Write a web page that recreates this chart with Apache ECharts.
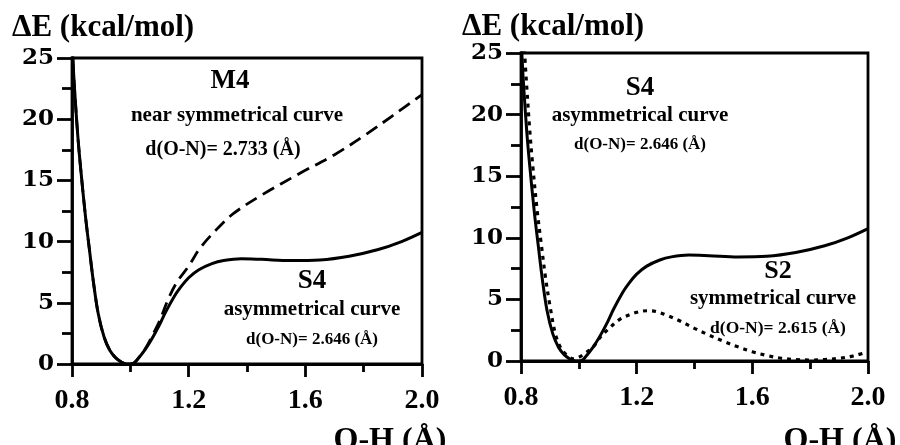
<!DOCTYPE html>
<html>
<head>
<meta charset="utf-8">
<script src="https://cdn.jsdelivr.net/npm/echarts@6/dist/echarts.min.js"></script>
<style>
  html, body { margin: 0; padding: 0; background: #fff; }
  #chart-box { width: 900px; height: 445px; }
</style>
</head>
<body>
<div id="chart-box"></div>
<script>
// O-H distance (Å) and ΔE (kcal/mol)
const s4OH = [0.80, 0.805, 0.81, 0.82, 0.83, 0.846, 0.86, 0.874, 0.89, 0.91, 0.93, 0.95, 0.97, 0.98, 0.995, 1.01, 1.02, 1.05, 1.075, 1.1, 1.12, 1.15, 1.17, 1.2, 1.235, 1.28, 1.32, 1.38, 1.45, 1.55, 1.65, 1.75, 1.85, 1.93, 2.0];
const s4E = [26.5, 24.0, 22.0, 18.6, 15.9, 12.1, 9.3, 6.6, 4.1, 2.2, 1.1, 0.5, 0.15, 0.05, 0.0, 0.06, 0.25, 1.15, 2.1, 3.2, 4.2, 5.5, 6.2, 7.05, 7.7, 8.2, 8.45, 8.6, 8.55, 8.45, 8.5, 8.8, 9.35, 10.0, 10.75];

const m4OH = [0.80, 0.805, 0.81, 0.82, 0.83, 0.846, 0.86, 0.874, 0.89, 0.91, 0.93, 0.95, 0.97, 0.98, 0.995, 1.01, 1.02, 1.05, 1.075, 1.1, 1.13, 1.16, 1.2, 1.24, 1.3, 1.354, 1.45, 1.583, 1.7, 1.811, 1.9, 2.0];
const m4E = [26.5, 24.0, 22.0, 18.6, 15.9, 12.1, 9.3, 6.6, 4.1, 2.2, 1.1, 0.5, 0.15, 0.05, 0.0, 0.06, 0.25, 1.2, 2.3, 3.5, 5.3, 6.7, 8.0, 9.5, 11.1, 12.3, 13.8, 15.6, 17.1, 18.8, 20.3, 22.0];

const s2OH = [0.81, 0.815, 0.82, 0.83, 0.84, 0.856, 0.87, 0.884, 0.90, 0.92, 0.94, 0.96, 0.98, 1.0, 1.02, 1.05, 1.075, 1.1, 1.143, 1.2, 1.24, 1.27, 1.3, 1.35, 1.4, 1.45, 1.5, 1.55, 1.6, 1.65, 1.7, 1.75, 1.8, 1.85, 1.9, 1.95, 2.0];
const s2E = [26.0, 24.0, 22.2, 18.8, 16.0, 12.2, 9.5, 6.9, 4.5, 2.1, 0.95, 0.45, 0.18, 0.3, 0.6, 1.15, 1.95, 2.55, 3.4, 3.95, 4.08, 4.0, 3.75, 3.25, 2.65, 2.1, 1.6, 1.15, 0.75, 0.45, 0.22, 0.12, 0.08, 0.12, 0.22, 0.42, 0.75];

const xTicks = [0.8, 2.0, 0.4];   // min, max, step
const yTicks = [0, 25, 5];

const zip = (xs, ys) => xs.map((x, i) => [x, ys[i]]);

const serif = '"Liberation Serif", "Times New Roman", serif';
const ink = '#000';

function makeX(gridIndex) {
    return {
        type: 'value', gridIndex: gridIndex,
        min: xTicks[0], max: xTicks[1], interval: xTicks[2],
        axisLine: {show: true, onZero: false, lineStyle: {color: ink, width: 2.8}},
        axisTick: {show: true, length: 13, lineStyle: {color: ink, width: 2.8}},
        minorTick: {show: true, splitNumber: 2, length: 8, lineStyle: {color: ink, width: 2.8}},
        splitLine: {show: false},
        axisLabel: {
            color: ink, fontFamily: serif, fontWeight: 'bold', fontSize: 28, margin: 23,
            formatter: v => v.toFixed(1)
        }
    };
}

function makeY(gridIndex) {
    return {
        type: 'value', gridIndex: gridIndex,
        min: yTicks[0], max: yTicks[1], interval: yTicks[2],
        axisLine: {show: true, lineStyle: {color: ink, width: 2.8}},
        axisTick: {show: true, length: 15, lineStyle: {color: ink, width: 2.8}},
        minorTick: {show: true, splitNumber: 2, length: 10, lineStyle: {color: ink, width: 2.8}},
        splitLine: {show: false},
        axisLabel: {
            color: ink, fontFamily: '"DejaVu Serif", serif', fontWeight: 'bold', fontSize: 23, margin: 18
        }
    };
}

function curve(name, data, idx, type, width) {
    return {
        name: name, type: 'line', data: data,
        xAxisIndex: idx, yAxisIndex: idx,
        showSymbol: false, smooth: 0.35, clip: true,
        lineStyle: {color: ink, width: width, type: type, cap: 'butt'},
        emphasis: {disabled: true},
        silent: true
    };
}

function label(text, x, y, size, align) {
    return {
        type: 'text', x: x, y: y,
        style: {
            text: text, fill: ink,
            font: 'bold ' + size + 'px ' + serif,
            textAlign: align || 'center', align: align || 'center',
            textVerticalAlign: 'middle', verticalAlign: 'middle'
        }
    };
}

const chart = echarts.init(document.getElementById('chart-box'), null, {renderer: 'canvas'});
chart.setOption({
    backgroundColor: '#fff',
    animation: false,
    grid: [
        {left: 72, top: 58, width: 350, height: 306, show: true, borderColor: ink, borderWidth: 2.8},
        {left: 521, top: 53, width: 347, height: 308, show: true, borderColor: ink, borderWidth: 2.8}
    ],
    xAxis: [makeX(0), makeX(1)],
    yAxis: [makeY(0), makeY(1)],
    series: [
        curve('M4', zip(m4OH, m4E), 0, [13, 7], 2.8),
        curve('S4', zip(s4OH, s4E), 0, 'solid', 3),
        curve('S2', zip(s2OH, s2E), 1, [4, 5], 3.2),
        curve('S4', zip(s4OH, s4E), 1, 'solid', 3)
    ],
    graphic: [
        label('ΔE (kcal/mol)', 12, 28, 31, 'left'),
        label('M4', 230, 81, 27),
        label('near symmetrical curve', 237, 116, 21),
        label('d(O-N)= 2.733 (Å)', 223, 150, 20),
        label('S4', 312, 281, 27),
        label('asymmetrical curve', 312, 310, 21),
        label('d(O-N)= 2.646 (Å)', 312, 340, 17),
        label('O-H (Å)', 390, 441, 32),

        label('ΔE (kcal/mol)', 462, 27, 31, 'left'),
        label('S4', 640, 88, 27),
        label('asymmetrical curve', 640, 116, 21),
        label('d(O-N)= 2.646 (Å)', 640, 145, 17),
        label('S2', 778, 271, 26),
        label('symmetrical curve', 773, 299, 21),
        label('d(O-N)= 2.615 (Å)', 778, 328, 17.5),
        label('O-H (Å)', 840, 441, 32)
    ]
});
</script>
</body>
</html>
